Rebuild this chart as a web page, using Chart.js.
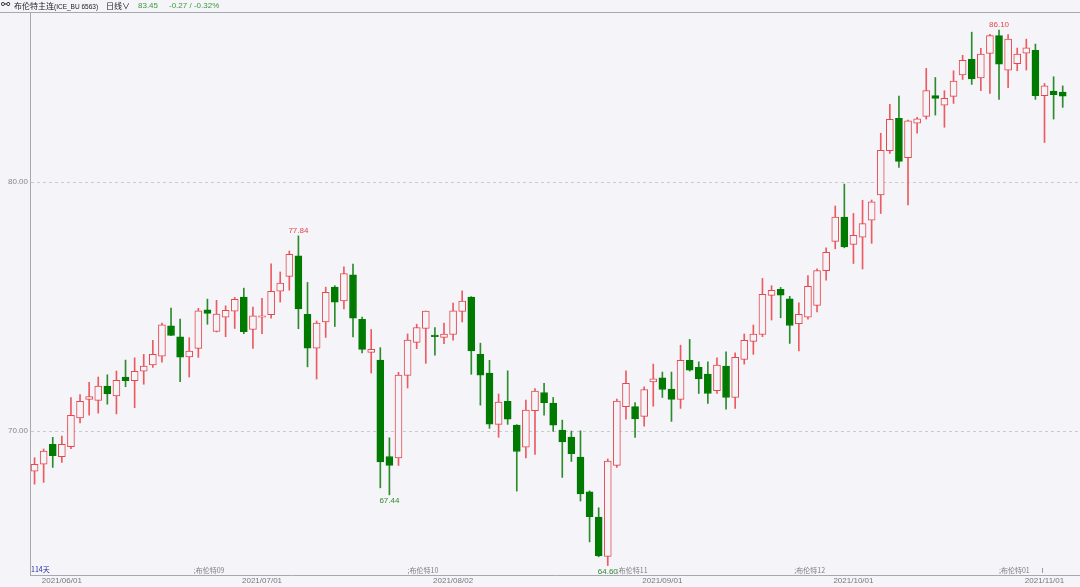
<!DOCTYPE html>
<html>
<head>
<meta charset="utf-8">
<script src="https://cdn.jsdelivr.net/npm/chart.js@4.4.0/dist/chart.umd.min.js"></script>
<style>
html,body{margin:0;padding:0;background:#F4F4F9;}
#wrap{position:relative;width:1080px;height:587px;overflow:hidden;background:#F4F4F9;}
#c{position:absolute;left:0;top:0;}
#hdr{position:absolute;left:0;top:0;width:1080px;height:12px;font-size:8px;line-height:12px;font-family:"Noto Sans CJK SC","DejaVu Sans",sans-serif;color:#222;white-space:nowrap;}
#hdr span{position:absolute;top:0;}
.g{color:#3A9A3A;font-family:"Liberation Sans",Arial,sans-serif;}
.s{font-family:"Liberation Sans",Arial,sans-serif;font-size:6.5px;}
</style>
</head>
<body>
<div id="wrap">
<canvas id="c" width="1080" height="587"></canvas>
<div id="hdr">
<span style="left:1px;top:-1px;font-family:'DejaVu Sans';font-size:11px;">⚯</span>
<span style="left:14px;">布伦特主连<span class="s" style="position:static;">(ICE_BU 6563)</span></span>
<span style="left:106px;">日线∨</span>
<span class="g" style="left:138px;">83.45</span>
<span class="g" style="left:169px;">-0.27 / -0.32%</span>
</div>
</div>
<script>
// ---- data ----
const openP  = [68.39,68.67,69.47,68.97,69.37,70.53,71.27,71.23,71.81,71.41,72.17,72.02,72.41,72.66,73.01,74.23,73.78,72.98,73.32,74.87,
                74.00,74.57,74.82,75.38,74.08,74.57,74.67,75.62,76.21,77.04,74.69,73.33,74.38,75.78,75.23,76.27,74.49,73.16,72.85,68.98,
                68.92,72.24,73.56,74.12,73.86,73.76,73.88,74.81,75.38,73.08,72.33,70.27,71.19,70.24,69.35,70.82,71.55,71.12,70.04,69.76,
                68.96,67.56,66.55,64.97,68.62,70.98,70.98,70.59,71.97,72.14,71.69,71.27,72.84,72.56,72.29,71.62,72.61,71.35,72.88,73.60,
                73.88,75.45,75.69,75.31,74.31,74.57,75.05,76.44,77.62,78.59,77.50,77.79,78.47,79.48,81.26,82.56,80.98,82.37,82.64,83.47,
                83.09,83.44,84.30,84.93,84.18,85.17,85.88,84.49,84.75,85.18,85.29,83.47,83.65,83.61];
const highP  = [68.93,69.28,69.75,69.80,71.35,71.47,71.96,72.17,72.26,72.41,72.85,72.94,73.08,73.64,74.34,74.94,74.50,73.75,74.93,75.30,
                75.25,75.03,75.37,75.74,74.98,75.33,76.72,76.39,77.23,77.84,75.97,74.42,75.78,75.84,76.60,76.71,74.58,74.08,73.35,69.73,
                72.36,73.90,74.29,74.82,74.16,74.34,75.14,75.63,75.40,73.53,72.84,71.49,72.42,70.26,71.24,71.71,71.92,71.35,70.44,70.00,
                70.01,67.60,66.92,68.88,71.28,72.42,71.14,71.78,72.69,72.37,72.37,73.45,73.68,72.78,72.78,72.94,73.18,73.14,73.90,74.26,
                76.13,75.84,75.77,75.41,75.15,76.24,76.52,77.36,79.04,79.92,78.74,79.27,79.28,81.96,83.12,83.45,82.49,82.60,84.57,84.20,
                83.67,84.47,85.09,86.02,85.37,85.93,86.10,85.92,85.38,85.74,85.54,83.96,84.23,83.86];
const lowP   = [67.87,67.94,68.54,68.74,69.29,70.33,70.64,70.72,71.08,70.69,71.78,70.94,71.88,72.56,72.77,73.83,71.98,72.17,72.96,74.29,
                73.98,73.79,74.12,73.91,73.32,73.91,74.53,75.18,75.66,74.11,72.58,72.09,73.76,74.20,74.91,73.78,73.14,72.33,67.72,67.44,
                68.62,71.73,73.31,72.72,73.05,73.51,73.65,74.38,72.28,71.04,70.11,69.75,70.27,67.59,68.92,69.06,70.64,69.99,68.14,68.78,
                67.19,65.55,64.95,64.60,68.54,70.48,69.75,70.20,71.00,71.35,70.39,70.91,72.41,71.51,71.11,71.51,70.88,70.91,72.69,73.08,
                73.79,74.46,74.55,73.52,73.22,74.49,74.79,76.06,77.32,77.36,76.73,76.51,77.54,78.74,81.15,80.59,79.08,81.96,82.53,82.69,
                82.20,83.16,84.12,83.92,83.67,83.56,83.32,83.79,84.47,84.50,83.32,81.59,82.53,83.00];
const closeP = [68.66,69.20,69.01,69.47,70.63,71.19,71.39,71.81,71.49,72.04,72.02,72.40,72.61,73.08,74.27,73.84,72.97,73.21,74.83,74.73,
                74.70,74.85,75.29,73.99,74.63,74.63,75.61,75.94,77.10,74.91,73.33,74.34,75.57,75.18,76.33,74.53,73.28,73.28,68.76,68.62,
                72.25,73.65,74.16,74.82,73.79,73.90,74.83,75.22,73.22,72.25,70.28,71.16,70.48,69.18,70.84,71.61,71.14,70.24,69.56,69.09,
                67.48,66.56,64.99,68.80,71.20,71.92,70.49,71.67,72.10,71.67,71.27,72.84,72.45,72.09,71.51,72.65,71.35,72.96,73.64,73.90,
                75.49,75.65,75.46,74.24,74.69,75.81,76.45,77.18,78.59,77.40,77.86,78.33,79.21,81.27,82.52,80.83,82.46,82.54,83.67,83.36,
                83.36,84.06,84.89,84.14,85.14,85.88,84.73,85.74,85.14,85.39,83.47,83.87,83.51,83.45];

const dateTickIdx  = [3, 25, 46, 69, 90, 111];
const dateTickText = ['2021/06/01','2021/07/01','2021/08/02','2021/09/01','2021/10/01','2021/11/01'];
const yTickValues  = [70, 80];
const contractIdx  = [17.5, 41, 64, 83.5, 106];
const contractText = [';布伦特09', ';布伦特10', ';布伦特11', ';布伦特12', ';布伦特01'];
const highMarkIdx  = [29, 106];
const lowMarkIdx   = [39, 63];
const dayCountText = '114天';

// ---- styles ----
const BG = '#F4F4F9';
const UP = '#E5484D', UP_WICK = '#EC5B60';
const DOWN = '#007A00', DOWN_WICK = '#2C8C2C';
const isUp = i => closeP[i] >= openP[i];

const bodies = openP.map((o, i) => ({x: i, y: [o, closeP[i]]}));
const wicks  = lowP.map((l, i) => ({x: i, y: [l, highP[i]]}));

const annot = {
  id: 'annot',
  afterDatasetsDraw(chart) {
    const ctx = chart.ctx, xs = chart.scales.x, ys = chart.scales.y, a = chart.chartArea;
    ctx.save();
    ctx.strokeStyle = '#A8A8B0'; ctx.lineWidth = 1;
    ctx.beginPath(); ctx.moveTo(0, Math.round(a.top) + 0.5); ctx.lineTo(1080, Math.round(a.top) + 0.5); ctx.stroke();
    ctx.font = '8px "Liberation Sans", Arial, sans-serif';
    ctx.textAlign = 'center';
    ctx.fillStyle = '#E0474C'; ctx.textBaseline = 'bottom';
    highMarkIdx.forEach(i => ctx.fillText(highP[i].toFixed(2), xs.getPixelForValue(i), ys.getPixelForValue(highP[i]) - 1));
    ctx.fillStyle = '#2E8B2E'; ctx.textBaseline = 'top';
    lowMarkIdx.forEach(i => ctx.fillText(lowP[i].toFixed(2), xs.getPixelForValue(i), ys.getPixelForValue(lowP[i]) + 2));
    ctx.textAlign = 'left'; ctx.textBaseline = 'middle';
    ctx.font = '7px "Noto Sans CJK SC", sans-serif';
    ctx.fillStyle = '#2A2AA0';
    ctx.fillText(dayCountText, a.left + 1, a.bottom - 6);
    ctx.fillStyle = '#808080';
    contractIdx.forEach((v, k) => ctx.fillText(contractText[k], xs.getPixelForValue(v), a.bottom - 5));
    ctx.strokeStyle = '#999';
    const tx = Math.round(xs.getPixelForValue(110.7)) + 0.5;
    ctx.beginPath(); ctx.moveTo(tx, a.bottom - 7); ctx.lineTo(tx, a.bottom - 2); ctx.stroke();
    ctx.restore();
  }
};

new Chart(document.getElementById('c'), {
  type: 'bar',
  data: {
    datasets: [
      {
        label: 'body', data: bodies, order: 0, grouped: false,
        barThickness: 7, borderWidth: 1, borderSkipped: false,
        backgroundColor: c => isUp(c.dataIndex) ? BG : DOWN,
        borderColor: c => isUp(c.dataIndex) ? UP : DOWN
      },
      {
        label: 'wick', data: wicks, order: 1, grouped: false,
        barThickness: 1, borderWidth: 0,
        backgroundColor: c => isUp(c.dataIndex) ? UP_WICK : DOWN_WICK
      }
    ]
  },
  options: {
    responsive: false, animation: false, devicePixelRatio: 1,
    layout: {padding: {top: 12, left: 0, right: 0, bottom: 0}},
    plugins: {legend: {display: false}, tooltip: {enabled: false}},
    scales: {
      x: {
        type: 'linear', min: -0.5, max: 114.9, offset: false,
        grid: {display: false, drawTicks: false},
        border: {display: true, color: '#A8A8B0', width: 1},
        ticks: {
          autoSkip: false, maxRotation: 0, padding: 1, color: '#777',
          font: {size: 8, family: '"Liberation Sans", Arial, sans-serif'},
          callback: v => { const k = dateTickIdx.indexOf(v); return k >= 0 ? dateTickText[k] : ''; }
        },
        afterBuildTicks: s => { s.ticks = dateTickIdx.map(v => ({value: v})); },
        afterFit: s => { s.height = 12; }
      },
      y: {
        min: 64.22, max: 86.83, position: 'left',
        grid: {color: '#C9C9D0', drawTicks: false, lineWidth: 1},
        border: {display: true, color: '#A8A8B0', width: 1, dash: [3, 3]},
        ticks: {
          padding: 2, color: '#888',
          font: {size: 8, family: '"Liberation Sans", Arial, sans-serif'},
          callback: v => Number(v).toFixed(2)
        },
        afterBuildTicks: s => { s.ticks = yTickValues.map(v => ({value: v})); },
        afterFit: s => { s.width = 30; }
      }
    }
  },
  plugins: [annot]
});
</script>
</body>
</html>
